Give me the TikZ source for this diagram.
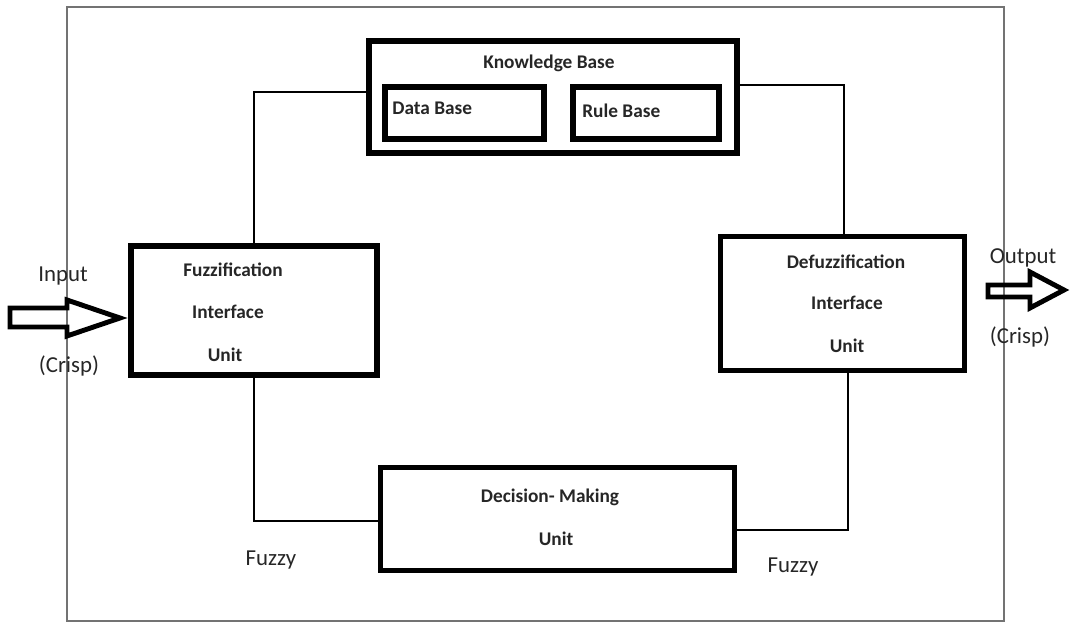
\documentclass[tikz,border=0pt]{standalone}
\usepackage{fontspec}
\setmainfont{Carlito}
\usetikzlibrary{positioning}

\begin{document}
\begin{tikzpicture}[x=0.02cm, y=-0.02cm,
    box/.style={draw, line width=3pt, inner sep=0pt},
    lbl/.style={font=\bfseries\fontsize{11}{13}\selectfont, text=black!85, inner sep=0pt},
    io/.style={font=\fontsize{13}{15}\selectfont, text=black!85, inner sep=0pt},
    link/.style={line width=1.6pt},
    fat/.style={line width=2.8pt, line join=miter}]
    \useasboundingbox (0,0) rectangle (1073,624);
    % system frame
    \draw[black!55, line width=1.1pt] (67,7) rectangle (1004,621);

    % knowledge base with its two parts
    \node[box, minimum width=7.36cm, minimum height=2.24cm] (kb) at (553,97) {};
    \node[box, minimum width=3.18cm, minimum height=1.04cm] (db) at (464.5,113) {};
    \node[box, minimum width=2.92cm, minimum height=1.04cm] (rb) at (646,113) {};
    \node[lbl] (kbtxt) at (549,63) {Knowledge Base};
    \node[lbl, anchor=west] (dbtxt) at (392,108) {Data Base};
    \node[lbl, anchor=west] (rbtxt) at (582,111) {Rule Base};

    % fuzzification / defuzzification / decision units
    \node[box, minimum width=4.92cm, minimum height=2.58cm] (fuzz) at (254,310.5) {};
    \node[lbl] (fuzz1) at (233,270) {Fuzzification};
    \node[lbl] (fuzz2) at (228,312) {Interface};
    \node[lbl] (fuzz3) at (225,355) {Unit};

    \node[box, minimum width=4.88cm, minimum height=2.68cm] (defuzz) at (842.5,303.5) {};
    \node[lbl] (defuzz1) at (846,262) {Defuzzification};
    \node[lbl] (defuzz2) at (847,303) {Interface};
    \node[lbl] (defuzz3) at (847,346) {Unit};

    \node[box, minimum width=7.08cm, minimum height=2.06cm] (dmu) at (557.5,519) {};
    \node[lbl] (dmu1) at (550,497) {Decision- Making};
    \node[lbl] (dmu2) at (556,539) {Unit};

    % links between the units
    \draw[link] (fuzz.north) |- ([yshift=0.1cm]kb.west);
    \draw[link] ([yshift=0.24cm]kb.east) -| ([xshift=0.03cm]defuzz.north);
    \draw[link] (fuzz.south) |- ([yshift=-0.04cm]dmu.west);
    \draw[link] ([yshift=-0.22cm]dmu.east) -| ([xshift=0.11cm]defuzz.south);

    \node[io] (fz1) at (271,560) {Fuzzy};
    \node[io] (fz2) at (793,567) {Fuzzy};

    % crisp input and output
    \draw[fat] (10,308) -- (67,308) -- (67,300) -- (120,318) -- (67,336)
        -- (67,327) -- (10,327) -- cycle;
    \node[io] (inp) at (63,276) {Input};
    \node[io] (inc) at (69,366) {(Crisp)};

    \draw[fat] (988,285) -- (1030,285) -- (1030,272) -- (1064,290) -- (1030,308)
        -- (1030,297) -- (988,297) -- cycle;
    \node[io] (outp) at (1023,258) {Output};
    \node[io] (outc) at (1020,337) {(Crisp)};
\end{tikzpicture}
\end{document}
